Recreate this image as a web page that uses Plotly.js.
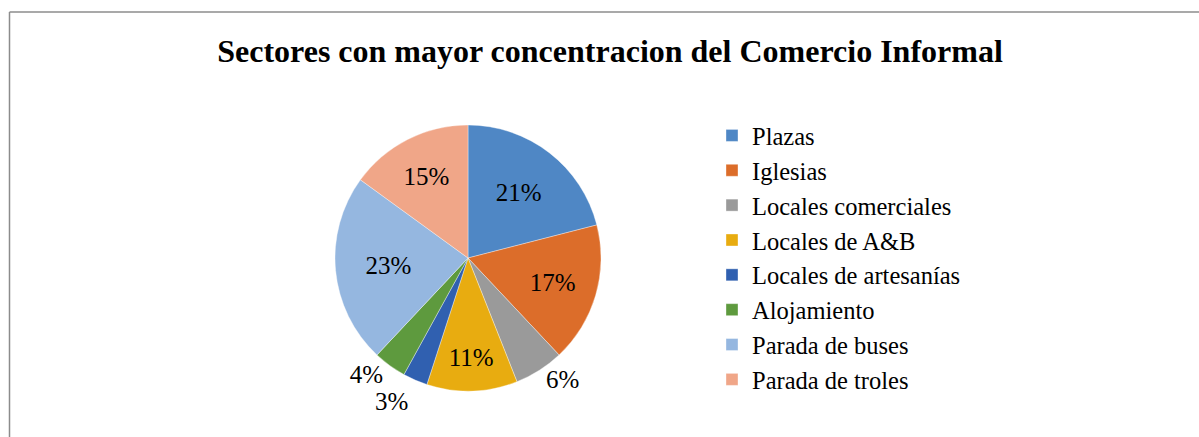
<!DOCTYPE html>
<html>
<head>
<meta charset="utf-8">
<script src="https://cdn.plot.ly/plotly-3.0.1.min.js"></script>
<style>html,body{margin:0;padding:0;background:#fff;}#chart{width:1199px;height:437px;}#chart path.textline{display:none;}</style>
</head>
<body>
<div id="chart"></div>
<script>
const categories = ["Plazas", "Iglesias", "Locales comerciales", "Locales de A&B", "Locales de artesanías", "Alojamiento", "Parada de buses", "Parada de troles"];
const values = [21, 17, 6, 11, 3, 4, 23, 15];
const sliceColors = ["#4f87c5", "#dc6d2a", "#9a9a9a", "#e8ac10", "#3060b0", "#5e9a3e", "#95b7e0", "#f0a688"];
const labelPositions = ["inside", "inside", "outside", "inside", "outside", "outside", "inside", "inside"];
const chartTitle = "Sectores con mayor concentracion del Comercio Informal";

const W = 1199, H = 437;
const cx = 468, cy = 258, r = 133;
const serif = "Liberation Serif, Times New Roman, serif";

const trace = {
  type: "pie",
  labels: categories,
  values: values,
  sort: false,
  direction: "clockwise",
  rotation: 0,
  marker: {colors: sliceColors, line: {color: "rgba(255,255,255,0.6)", width: 0.6}},
  textinfo: "percent",
  texttemplate: "%{percent:.0%}",
  textposition: labelPositions,
  insidetextorientation: "horizontal",
  textfont: {family: serif, size: 25, color: "#000"},
  outsidetextfont: {family: serif, size: 25, color: "#000"},
  automargin: false,
  hoverinfo: "label+percent",
  domain: {x: [(cx - r) / W, (cx + r) / W], y: [1 - (cy + r) / H, 1 - (cy - r) / H]}
};

const layout = {
  width: W, height: H,
  margin: {l: 0, r: 0, t: 0, b: 0},
  paper_bgcolor: "#fff",
  showlegend: true,
  title: {
    text: "<b>" + chartTitle + "</b>",
    font: {family: serif, size: 32, color: "#000"},
    x: 610 / W, xanchor: "center", y: 1 - 51 / H, yanchor: "middle"
  },
  legend: {
    x: 712 / W, xanchor: "left",
    y: 1 - 113 / H, yanchor: "top",
    font: {family: serif, size: 24.5, color: "#000"},
    bgcolor: "rgba(0,0,0,0)",
    traceorder: "normal",
    itemclick: false
  },
  shapes: [
    {type: "line", xref: "paper", yref: "paper", x0: 9.5 / W, x1: 9.5 / W, y0: 0, y1: 1 - 12 / H, line: {color: "#8c8c8c", width: 1.5}},
    {type: "line", xref: "paper", yref: "paper", x0: 9.5 / W, x1: 1, y0: 1 - 12 / H, y1: 1 - 12 / H, line: {color: "#8c8c8c", width: 1.5}}
  ]
};

Plotly.newPlot("chart", [trace], layout, {displayModeBar: false, staticPlot: true});
</script>
</body>
</html>
